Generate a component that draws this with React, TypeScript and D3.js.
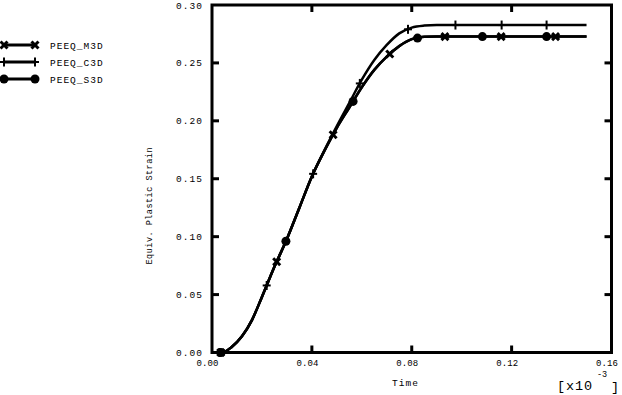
import React from "react";
import * as d3 from "d3";

// time axis values (s), in units of 1e-3
const times = [0, 0.004, 0.008, 0.012, 0.016, 0.02, 0.025, 0.03, 0.035, 0.04, 0.045, 0.05, 0.055, 0.06, 0.065, 0.07, 0.075, 0.08, 0.085, 0.09, 0.1, 0.12, 0.15];

const m3dValues = [0, 0, 0.005, 0.014, 0.028, 0.048, 0.074, 0.098, 0.125, 0.152, 0.174, 0.194, 0.2115, 0.229, 0.244, 0.2555, 0.2645, 0.2705, 0.2725, 0.2727, 0.2727, 0.2727, 0.2727];
const c3dValues = [0, 0, 0.005, 0.014, 0.028, 0.048, 0.074, 0.098, 0.125, 0.152, 0.1745, 0.1955, 0.2155, 0.2355, 0.2525, 0.2655, 0.2755, 0.2805, 0.2822, 0.2827, 0.2827, 0.2827, 0.2827];
const s3dValues = [0, 0, 0.005, 0.014, 0.028, 0.048, 0.074, 0.098, 0.125, 0.152, 0.174, 0.194, 0.2115, 0.229, 0.244, 0.2555, 0.2645, 0.2705, 0.2725, 0.2727, 0.2727, 0.2727, 0.2727];

// where the symbols sit along each curve
const m3dMarks = [0.0035, 0.0259, 0.0485, 0.0712, 0.0933, 0.1158, 0.1376];
const c3dMarks = [0.0031, 0.0219, 0.0405, 0.0592, 0.0785, 0.0975, 0.116, 0.134];
const s3dMarks = [0.0036, 0.0296, 0.0565, 0.0823, 0.1083, 0.134];

const xTicks = [0, 0.04, 0.08, 0.12, 0.16];
const yTicks = [0, 0.05, 0.1, 0.15, 0.2, 0.25, 0.3];
const seriesNames = ["PEEQ_M3D", "PEEQ_C3D", "PEEQ_S3D"];

const FONT = "'Liberation Mono', 'DejaVu Sans Mono', monospace";

const interp = (vals: number[], t: number) => {
  const i = Math.min(Math.max(d3.bisectRight(times, t), 1), times.length - 1);
  const t0 = times[i - 1], t1 = times[i];
  const k = (t - t0) / (t1 - t0);
  return vals[i - 1] + k * (vals[i] - vals[i - 1]);
};

const Marker = ({ kind, x, y }: { kind: string; x: number; y: number }) => {
  if (kind === "circle") return <circle cx={x} cy={y} r={4.5} fill="#000" />;
  if (kind === "cross")
    return (
      <g stroke="#000" strokeWidth={3}>
        <line x1={x - 3.5} y1={y - 3.5} x2={x + 3.5} y2={y + 3.5} />
        <line x1={x - 3.5} y1={y + 3.5} x2={x + 3.5} y2={y - 3.5} />
      </g>
    );
  return (
    <g stroke="#000" strokeWidth={2}>
      <line x1={x - 4} y1={y} x2={x + 4} y2={y} />
      <line x1={x} y1={y - 4.5} x2={x} y2={y + 4.5} />
    </g>
  );
};

export default function App() {
  const x = d3.scaleLinear().domain([0, 0.16]).range([212, 611.5]);
  const y = d3.scaleLinear().domain([0, 0.3]).range([352.5, 5]);

  const line = d3
    .line<number>()
    .x((_, i) => x(times[i]))
    .y((d) => y(d))
    .curve(d3.curveMonotoneX);

  const series = [
    { vals: m3dValues, marks: m3dMarks, kind: "cross" },
    { vals: c3dValues, marks: c3dMarks, kind: "plus" },
    { vals: s3dValues, marks: s3dMarks, kind: "circle" },
  ];

  const [x0, x1] = x.range();
  const [y0, y1] = y.range();
  const tl = 7;

  return (
    <svg width={622} height={395} style={{ position: "absolute", left: 0, top: 0, background: "#fff" }}>
      {/* curves */}
      {series.map((s, i) => (
        <g key={i}>
          <path d={line(s.vals) || ""} fill="none" stroke="#000" strokeWidth={2.5} />
          {s.marks.map((t, j) => (
            <Marker key={j} kind={s.kind} x={x(t)} y={y(interp(s.vals, t))} />
          ))}
        </g>
      ))}

      {/* frame */}
      <rect x={x0} y={y1} width={x1 - x0} height={y0 - y1} fill="none" stroke="#000" strokeWidth={3} />
      {xTicks.slice(1, -1).map((t) => (
        <g key={t} stroke="#000" strokeWidth={3}>
          <line x1={x(t)} x2={x(t)} y1={y0} y2={y0 - tl} />
          <line x1={x(t)} x2={x(t)} y1={y1} y2={y1 + tl} />
        </g>
      ))}
      {yTicks.slice(1, -1).map((t) => (
        <g key={t} stroke="#000" strokeWidth={3}>
          <line x1={x0} x2={x0 + tl} y1={y(t)} y2={y(t)} />
          <line x1={x1} x2={x1 - tl} y1={y(t)} y2={y(t)} />
        </g>
      ))}

      {/* tick labels */}
      <g fontFamily={FONT} fill="#000">
        {yTicks.map((t) => (
          <text key={t} x={202} y={y(t) + 3.5} textAnchor="end" fontSize={9.5} textLength={26} lengthAdjust="spacing">
            {t.toFixed(2)}
          </text>
        ))}
        {xTicks.map((t) => (
          <text key={t} x={x(t) - 4.5} y={366} textAnchor="middle" fontSize={9} textLength={22} lengthAdjust="spacing">
            {t.toFixed(2)}
          </text>
        ))}
        <text x={405.5} y={386} textAnchor="middle" fontSize={9.5} letterSpacing={1}>Time</text>
        <text
          transform="translate(152,206) rotate(-90)"
          textAnchor="middle"
          fontSize={8.5}
          textLength={117}
          lengthAdjust="spacing"
        >
          Equiv. Plastic Strain
        </text>
      </g>
      <g fontFamily={FONT} fill="#000">
        <text x={557} y={390} fontSize={13.5} textLength={35} lengthAdjust="spacing">[x10</text>
        <text x={597} y={377} fontSize={8.5}>-3</text>
        <text x={611} y={391} fontSize={13.5}>]</text>
      </g>

      {/* legend */}
      {series.map((s, i) => {
        const ly = 45 + i * 17;
        return (
          <g key={i}>
            <line x1={3} x2={36} y1={ly} y2={ly} stroke="#000" strokeWidth={3} />
            <Marker kind={s.kind} x={4} y={ly} />
            <Marker kind={s.kind} x={35} y={ly} />
            <text x={50} y={ly + 3.5} fontFamily={FONT} fontSize={9.5} letterSpacing={1} fill="#000">
              {seriesNames[i]}
            </text>
          </g>
        );
      })}
    </svg>
  );
}
